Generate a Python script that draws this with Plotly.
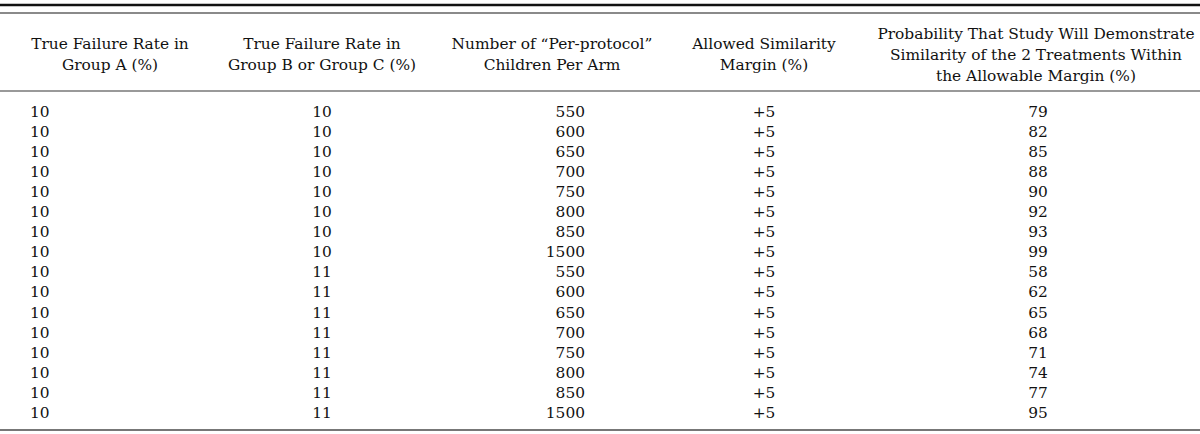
import plotly.graph_objects as go

# ---- data ----
headers = [
    ["True Failure Rate in", "Group A (%)"],
    ["True Failure Rate in", "Group B or Group C (%)"],
    ["Number of \u201cPer-protocol\u201d", "Children Per Arm"],
    ["Allowed Similarity", "Margin (%)"],
    ["Probability That Study Will Demonstrate", "Similarity of the 2 Treatments Within", "the Allowable Margin (%)"],
]
rate_a = [10, 10, 10, 10, 10, 10, 10, 10, 10, 10, 10, 10, 10, 10, 10, 10]
rate_bc = [10, 10, 10, 10, 10, 10, 10, 10, 11, 11, 11, 11, 11, 11, 11, 11]
children_per_arm = [550, 600, 650, 700, 750, 800, 850, 1500, 550, 600, 650, 700, 750, 800, 850, 1500]
margin = ["+5", "+5", "+5", "+5", "+5", "+5", "+5", "+5", "+5", "+5", "+5", "+5", "+5", "+5", "+5", "+5"]
probability = [79, 82, 85, 88, 90, 92, 93, 99, 58, 62, 65, 68, 71, 74, 77, 95]

# ---- layout constants ----
W, H = 1200, 434
FONT = "DejaVu Serif"
FS = 15.4
COLOR = "#111111"
row0, row_step = 113, 20.07
head_center, head_step = 56, 21.3

columns = [rate_a, rate_bc, children_per_arm, margin, probability]
data_x = [30, 322, 585, 764, 1038]
data_pos = ["middle right", "middle center", "middle left", "middle center", "middle center"]
head_x = [110, 322, 552, 764, 1036]

fig = go.Figure()

n = len(probability)
ys = [row0 + i * row_step for i in range(n)]
for col, x, pos in zip(columns, data_x, data_pos):
    fig.add_trace(go.Scatter(
        x=[x] * n, y=ys, mode="text", text=[str(v) for v in col],
        textposition=pos, textfont=dict(family=FONT, size=FS, color=COLOR),
        hoverinfo="skip", showlegend=False,
    ))

for lines, x in zip(headers, head_x):
    k = len(lines)
    hy = [head_center - (k - 1) / 2 * head_step + j * head_step for j in range(k)]
    fig.add_trace(go.Scatter(
        x=[x] * k, y=hy, mode="text", text=lines, textposition="middle center",
        textfont=dict(family=FONT, size=FS, color=COLOR),
        hoverinfo="skip", showlegend=False,
    ))

shapes = [
    dict(type="line", x0=0, x1=W, y0=5, y1=5, line=dict(color="#111111", width=2.5)),
    dict(type="line", x0=0, x1=W, y0=13, y1=13, line=dict(color="#8a8a8a", width=2)),
    dict(type="line", x0=0, x1=W, y0=91, y1=91, line=dict(color="#777777", width=1.3)),
    dict(type="line", x0=0, x1=W, y0=430, y1=430, line=dict(color="#777777", width=2)),
]
for s in shapes:
    s.update(xref="x", yref="y")

fig.update_layout(
    width=W, height=H, margin=dict(l=0, r=0, t=0, b=0),
    paper_bgcolor="white", plot_bgcolor="white",
    xaxis=dict(range=[0, W], visible=False, fixedrange=True),
    yaxis=dict(range=[H, 0], visible=False, fixedrange=True),
    shapes=shapes,
)

fig.write_html(
    "out.html",
    config={"displayModeBar": False},
    post_script="document.body.style.margin='0';document.body.style.padding='0';document.body.style.overflow='hidden';",
)
